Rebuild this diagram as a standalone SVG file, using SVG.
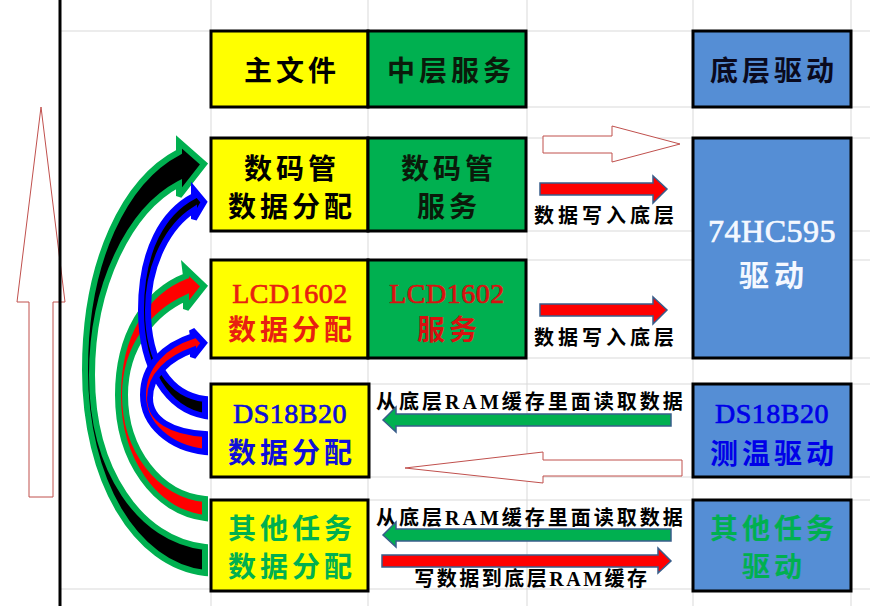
<svg xmlns="http://www.w3.org/2000/svg" width="870" height="606" viewBox="0 0 870 606">
<style>
.grid{stroke:#D9D9D9;stroke-width:1;fill:none}
.box{stroke:#000;stroke-width:3}
.y{fill:#FFFF00}.g{fill:#00B050}.b{fill:#558ED5}
.t{font-family:'Liberation Serif','Noto Sans CJK SC',serif;font-weight:bold;font-size:28px;text-anchor:middle;letter-spacing:4px}
.lat{letter-spacing:0.5px;font-weight:normal;stroke-width:0.7px}
.s{font-family:'Liberation Serif','Noto Sans CJK SC',serif;font-weight:bold;font-size:20px;text-anchor:middle;fill:#000}
.ol{fill:#fff;stroke:#C0504D;stroke-width:1}
.fa{stroke:#385D8A;stroke-width:1.5}
.ca{stroke-width:6;stroke-linejoin:miter;stroke-miterlimit:3}
</style>
<rect width="870" height="606" fill="#fff"/>
<g id="grid">
<path class="grid" d="M60,31H870M60,589H870M211,107H870M211,138H870M211,231H870M211,260H870M211,358H870M211,384H870M211,477H870M211,500H870M211,0V606M368,0V606M527,0V606M693,0V606M851,0V606"/>
</g>
<g id="up-arrow"><polygon class="ol" points="41,107 65,302 53,302 53,497 29,497 29,302 17,302"/></g>
<line x1="60" y1="0" x2="60" y2="606" stroke="#000" stroke-width="3"/>

<g id="n-main"><rect class="box y" x="211" y="31" width="157" height="76"/><text class="t" x="292" y="81">主文件</text></g>
<g id="n-mid"><rect class="box g" x="368" y="31" width="158" height="76"/><text class="t" x="451" y="81" fill="#0a1a0a">中层服务</text></g>
<g id="n-low"><rect class="box b" x="693" y="31" width="158" height="76"/><text class="t" x="774" y="81" fill="#0a0a1e">底层驱动</text></g>

<g id="n-seg-data"><rect class="box y" x="211" y="138" width="157" height="93"/><text class="t" x="292" y="179">数码管</text><text class="t" x="292" y="217">数据分配</text></g>
<g id="n-seg-svc"><rect class="box g" x="368" y="138" width="158" height="93"/><text class="t" x="449" y="179" fill="#0a1a0a">数码管</text><text class="t" x="449" y="217" fill="#0a1a0a">服务</text></g>
<g id="n-595"><rect class="box b" x="693" y="138" width="158" height="220"/><text class="t lat" x="772" y="242" style="font-size:32px;letter-spacing:0.5px" fill="#F4F8FF" stroke="#F4F8FF">74HC595</text><text class="t" x="774" y="286" style="font-size:30px;letter-spacing:5px" fill="#F4F8FF">驱动</text></g>

<g id="n-lcd-data"><rect class="box y" x="211" y="260" width="157" height="98"/><text class="t lat" x="290" y="303" fill="#E82010" stroke="#E82010">LCD1602</text><text class="t" x="292" y="340" fill="#E82010">数据分配</text></g>
<g id="n-lcd-svc"><rect class="box g" x="368" y="260" width="158" height="98"/><text class="t lat" x="447" y="303" fill="#D81010" stroke="#D81010">LCD1602</text><text class="t" x="449" y="340" fill="#D81010">服务</text></g>

<g id="n-ds-data"><rect class="box y" x="211" y="384" width="158" height="93"/><text class="t lat" x="290" y="423" fill="#1010D8" stroke="#1010D8">DS18B20</text><text class="t" x="292" y="463" fill="#1010D8">数据分配</text></g>
<g id="n-ds-drv"><rect class="box b" x="693" y="384" width="158" height="93"/><text class="t lat" x="772" y="423" fill="#0000E8" stroke="#0000E8">DS18B20</text><text class="t" x="774" y="464" fill="#0000E8">测温驱动</text></g>

<g id="n-oth-data"><rect class="box y" x="211" y="500" width="157" height="91"/><text class="t" x="292" y="539" fill="#00B050">其他任务</text><text class="t" x="292" y="577" fill="#00B050">数据分配</text></g>
<g id="n-oth-drv"><rect class="box b" x="693" y="500" width="158" height="91"/><text class="t" x="774" y="539" fill="#00B050">其他任务</text><text class="t" x="774" y="577" fill="#00B050">驱动</text></g>

<g id="connectors">
<path class="ca" fill="#000" stroke="#00B050" d="M205,573 C135,565 85,480 85,370 C85,260 125,180 179,152 L179,142 L204,164 L179,196 L179,184 C130,210 92,285 92,375 C92,470 140,540 205,547 Z"/>
<path class="ca" fill="#FF0000" stroke="#00B050" d="M205,518 C155,512 118,460 118,395 C118,335 145,292 186,276 L185,268 L204,286 L186,309 L186,298 C155,312 125,345 125,395 C125,450 160,495 205,499 Z"/>
<path class="ca" fill="#000" stroke="#0000FF" d="M205,416 C168,410 141,370 141,310 C141,250 163,212 194,196 L194,190 L204,202 L194,219 L194,210 C170,225 148,262 148,310 C148,362 170,395 205,399 Z"/>
<path class="ca" fill="#FF0000" stroke="#0000FF" d="M205,452 C170,448 143,425 143,395 C143,365 165,345 193,336 L192,330 L204,343 L193,357 L193,350 C170,358 150,375 150,398 C150,420 172,432 205,434 Z"/>

<polygon class="ol" points="543,136 612,136 612,126 680,144 612,162 612,153 543,153"/>
<polygon class="fa" fill="#FF0000" points="540,183 653,183 653,176 667,189 653,203 653,195 540,195"/>
<text class="s" x="606" y="223" style="letter-spacing:4px">数据写入底层</text>
<polygon class="fa" fill="#FF0000" points="540,304 653,304 653,297 667,310 653,324 653,316 540,316"/>
<text class="s" x="606" y="345" style="letter-spacing:4px">数据写入底层</text>

<text class="s" x="531" y="409" style="letter-spacing:3px">从底层RAM缓存里面读取数据</text>
<polygon class="fa" fill="#00B050" points="383,420 396,407 396,414 671,414 671,426 396,426 396,432"/>
<polygon class="ol" points="405,468 543,452 543,460 682,460 682,476 543,476 543,483"/>

<text class="s" x="531" y="525" style="letter-spacing:3px">从底层RAM缓存里面读取数据</text>
<polygon class="fa" fill="#00B050" points="383,535 396,522 396,529 671,529 671,541 396,541 396,547"/>
<polygon class="fa" fill="#FF0000" points="382,555 658,555 658,548 671,561 658,573 658,567 382,567"/>
<text class="s" x="532" y="586" style="letter-spacing:2.5px">写数据到底层RAM缓存</text>
</g>
</svg>
